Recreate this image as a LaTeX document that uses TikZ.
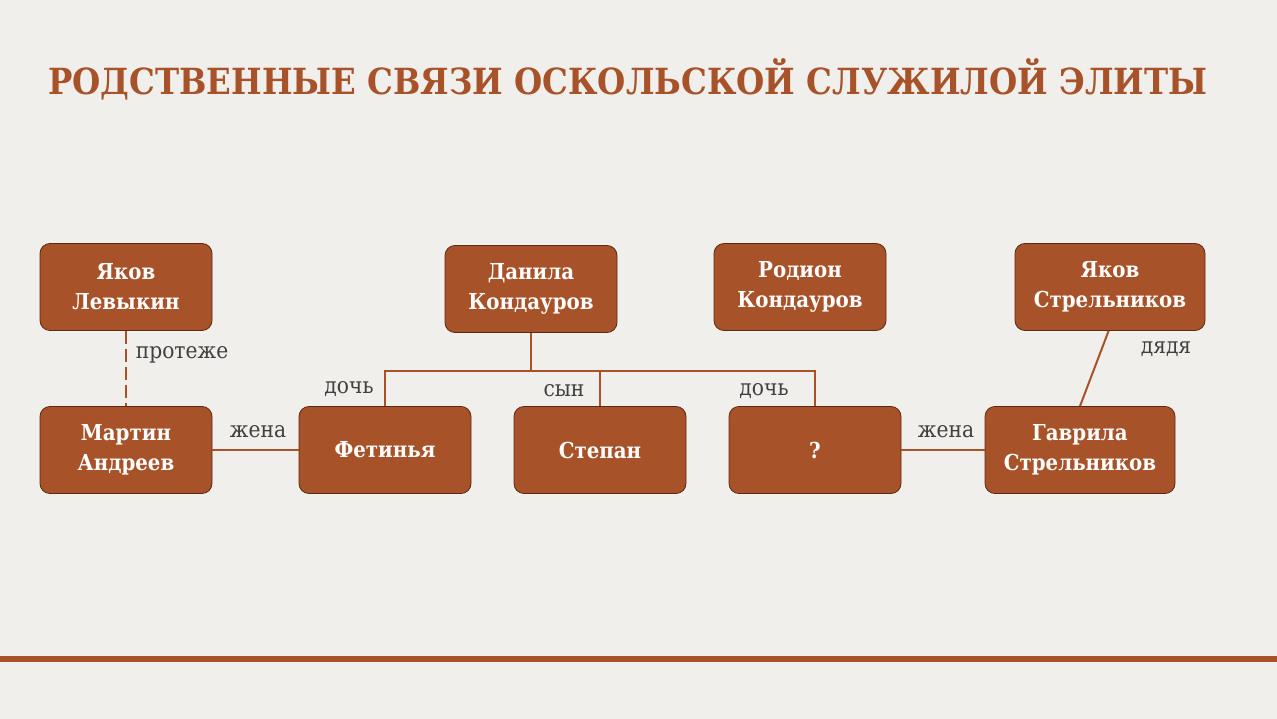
\documentclass[tikz,border=0pt]{standalone}
\usepackage{fontspec}
\setmainfont{DejaVu Serif Condensed}
\definecolor{paper}{HTML}{F0EFEB}
\definecolor{rust}{HTML}{A8522A}
\definecolor{rustdark}{HTML}{5C2A12}
\definecolor{taggray}{HTML}{404040}
\tikzset{
  person/.style={draw=rustdark, fill=rust, line width=0.8pt, rounded corners=10pt,
    minimum width=172pt, minimum height=87pt, inner sep=0pt, align=center,
    text=white, font=\bfseries\fontsize{22}{30}\selectfont},
  wideperson/.style={person, minimum width=190pt},
  link/.style={draw=rust, line width=2pt},
  tag/.style={text=taggray, font=\fontsize{22.5}{26}\selectfont},
  heading/.style={text=rust, font=\bfseries\fontsize{36}{40}\selectfont, inner sep=0pt}
}
\begin{document}
\begin{tikzpicture}[x=1pt, y=-1pt]
\useasboundingbox (0,0) rectangle (1277,719);
\fill[paper] (0,0) rectangle (1277,719);

\node[heading, anchor=base west] (title) at (48,95) {РОДСТВЕННЫЕ СВЯЗИ ОСКОЛЬСКОЙ СЛУЖИЛОЙ ЭЛИТЫ};

% upper row
\node[person] (levykin) at (126,287) {Яков\\Левыкин};
\node[person] (danila) at (531,289) {Данила\\Кондауров};
\node[person] (rodion) at (800,287) {Родион\\Кондауров};
\node[wideperson] (yakovs) at (1110,287) {Яков\\Стрельников};

% lower row
\node[person] (andreev) at (126,450) {Мартин\\Андреев};
\node[person] (fetinya) at (385,450) {Фетинья};
\node[person] (stepan) at (600,450) {Степан};
\node[person] (unknown) at (815,450) {?};
\node[wideperson] (gavrila) at (1080,450) {Гаврила\\Стрельников};

% links
\draw[link, dash pattern=on 13pt off 5pt] (levykin) -- (andreev);
\draw[link] (andreev) -- (fetinya);
\draw[link] (unknown) -- (gavrila);
\draw[link] (danila.south) -- ++(0,38) coordinate (fork);
\draw[link] (fetinya.north) |- (fork) -| (unknown.north);
\draw[link] (fork -| stepan.north) -- (stepan.north);
\draw[link] (yakovs.south west) ++(94,0) coordinate (uncle) -- (gavrila.north);

\node[tag] at (182,355) {протеже};
\node[tag] at (258,432) {жена};
\node[tag] at (349,389) {дочь};
\node[tag] at (564,391) {сын};
\node[tag] at (764,391) {дочь};
\node[tag] at (946,432) {жена};
\node[tag] at (1166,349) {дядя};

\draw[rust, line width=6pt] (0,659) -- (1277,659);
\end{tikzpicture}
\end{document}
